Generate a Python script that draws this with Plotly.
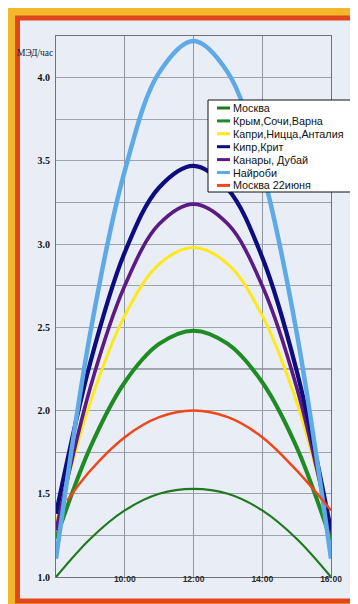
import plotly.graph_objects as go

# ---- data ----
hours = [8, 9, 10, 11, 12, 13, 14, 15, 16]
hours_red = [8.33, 9, 10, 11, 12, 13, 14, 15, 16]

moskva = [1.00, 1.23, 1.40, 1.50, 1.53, 1.50, 1.40, 1.23, 1.00]
krym = [1.23, 1.78, 2.17, 2.40, 2.48, 2.40, 2.17, 1.78, 1.22]
kapri = [1.32, 2.05, 2.57, 2.88, 2.98, 2.88, 2.57, 2.05, 1.30]
kipr = [1.38, 2.29, 2.95, 3.34, 3.47, 3.33, 2.92, 2.24, 1.28]
kanary = [1.28, 2.14, 2.75, 3.12, 3.24, 3.12, 2.75, 2.14, 1.26]
nairobi = [1.11, 2.47, 3.44, 4.03, 4.22, 4.03, 3.44, 2.47, 1.11]
moskva_june = [1.46, 1.64, 1.84, 1.96, 2.00, 1.96, 1.84, 1.64, 1.40]

names = ["Москва", "Крым,Сочи,Варна", "Капри,Ницца,Анталия", "Кипр,Крит",
         "Канары, Дубай", "Найроби", "Москва 22июня"]
series = [moskva, krym, kapri, kipr, kanary, nairobi, moskva_june]
xs = [hours, hours, hours, hours, hours, hours, hours_red]
colors = ["#1f7a1f", "#1e8c22", "#ffe81a", "#0d0d7e", "#5b1a84", "#5eaae6", "#f0461a"]
widths = [2.2, 4, 3, 4.2, 3.6, 4.5, 2.5]

x_tickvals = [10, 12, 14, 16]
x_ticktext = ["10:00", "12:00", "14:00", "16:00"]
y_tickvals = [1.0, 1.5, 2.0, 2.5, 3.0, 3.5, 4.0]
y_ticktext = ["1.0", "1.5", "2.0", "2.5", "3.0", "3.5", "4.0"]

W, H = 358, 604
L, R, T, B = 48, 35, 28, 35
PW, PH = W - L - R, H - T - B


def px(xpix):
    return (xpix - L) / PW


def py(ypix):
    return (H - B - ypix) / PH


fig = go.Figure()
draw_order = [0, 1, 2, 4, 3, 5, 6]
for i in draw_order:
    fig.add_trace(go.Scatter(
        x=xs[i], y=series[i], mode="lines", name=names[i],
        line=dict(color=colors[i], width=widths[i], shape="spline", smoothing=1.0),
        showlegend=False, hoverinfo="skip"))

shapes = []
# outer red frame with pale inner panel
shapes.append(dict(type="rect", xref="paper", yref="paper",
                   x0=px(9.5), x1=px(347.5), y0=py(593), y1=py(10),
                   line=dict(color="#e2461c", width=5), fillcolor="#e9eef6", layer="below"))
# darker horizontal line across the grid
shapes.append(dict(type="line", xref="paper", yref="y", x0=0, x1=1, y0=2.25, y1=2.25,
                   line=dict(color="#4a4d55", width=1), layer="below"))

# custom legend
lg_left, lg_right, lg_top, lg_bot = 200, 343, 92, 184
shapes.append(dict(type="rect", xref="paper", yref="paper",
                   x0=px(lg_left), x1=px(lg_right), y0=py(lg_bot), y1=py(lg_top),
                   line=dict(color="#111111", width=1), fillcolor="#ffffff", layer="above"))
annotations = []
for k, nm in enumerate(names):
    yc = 100 + k * 12.9
    shapes.append(dict(type="line", xref="paper", yref="paper",
                       x0=px(209), x1=px(222), y0=py(yc), y1=py(yc),
                       line=dict(color=colors[k], width=3), layer="above"))
    annotations.append(dict(text=nm, xref="paper", yref="paper", x=px(222.5), y=py(yc),
                            xanchor="left", yanchor="middle", showarrow=False,
                            font=dict(family="Liberation Sans, Arial", size=10.8, color="#111111")))

annotations.append(dict(text="МЭД/час", xref="paper", yref="paper", x=px(47), y=py(45),
                        xanchor="right", yanchor="middle", showarrow=False,
                        font=dict(family="Liberation Serif, Times New Roman", size=9.5, color="#222222")))

fig.update_layout(
    width=W, height=H,
    margin=dict(l=L, r=R, t=T, b=B, pad=0),
    paper_bgcolor="#f3b82a",
    plot_bgcolor="#edf1f7",
    shapes=shapes,
    annotations=annotations,
    showlegend=False,
    xaxis=dict(range=[8, 16], tickvals=x_tickvals, ticktext=x_ticktext,
               showgrid=True, gridcolor="#8f959f", gridwidth=1,
               zeroline=False, showline=True, linecolor="#6d717a", linewidth=1, mirror=True,
               ticks="", ticklabelstandoff=-6,
               tickfont=dict(family="Liberation Sans, Arial", size=8.5, color="#2a2a2a",
                             weight="bold")),
    yaxis=dict(range=[1, 4.25], tickvals=y_tickvals, ticktext=y_ticktext,
               showgrid=True, gridcolor="#9da3ad", gridwidth=1,
               minor=dict(tickvals=[1.25, 1.75, 2.25, 2.75, 3.25, 3.75, 4.25], showgrid=True,
                          gridcolor="#9da3ad", gridwidth=1),
               zeroline=False, showline=True, linecolor="#6d717a", linewidth=1, mirror=True,
               ticks="", ticklabelstandoff=3,
               tickfont=dict(family="Liberation Serif, Times New Roman", size=10, color="#111111",
                             weight="bold")),
)

fig.write_html("out.html")
